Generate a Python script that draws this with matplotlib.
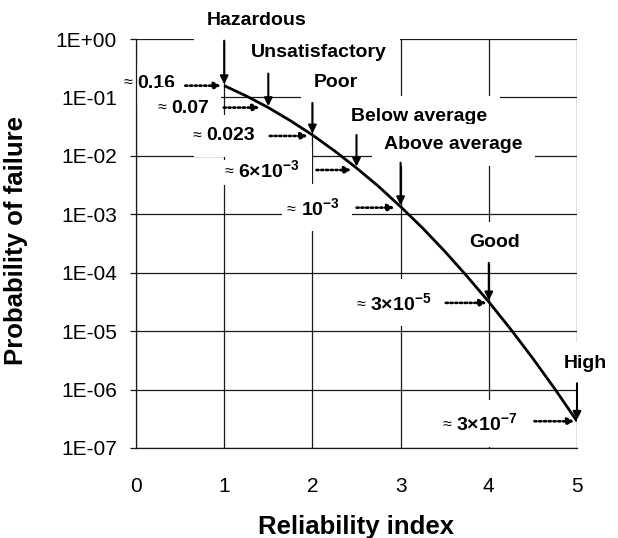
import numpy as np
import matplotlib
matplotlib.use('Agg')
import matplotlib.pyplot as plt
from matplotlib.ticker import NullLocator
from matplotlib.transforms import offset_copy

# ---- data ----
beta = [1.0, 1.25, 1.5, 1.75, 2.0, 2.25, 2.5, 2.75, 3.0, 3.25, 3.5, 3.75,
        4.0, 4.25, 4.5, 4.75, 5.0]
pf = [0.159, 0.106, 0.067, 0.040, 0.0228, 0.0122, 0.0062, 0.0030, 0.00135,
      5.8e-4, 2.33e-4, 8.8e-5, 3.17e-5, 1.07e-5, 3.4e-6, 1.02e-6, 2.87e-7]

xtick_vals = [0, 1, 2, 3, 4, 5]
ytick_vals = [1e0, 1e-1, 1e-2, 1e-3, 1e-4, 1e-5, 1e-6, 1e-7]
ytick_labels = ['1E+00', '1E-01', '1E-02', '1E-03', '1E-04', '1E-05',
                '1E-06', '1E-07']

categories = ['Hazardous', 'Unsatisfactory', 'Poor', 'Below average',
              'Above average', 'Good', 'High']
cat_beta = [1.0, 1.5, 2.0, 2.5, 3.0, 4.0, 5.0]
cat_pf = [0.159, 0.067, 0.0228, 0.0062, 0.00135, 3.17e-5, 2.87e-7]
pf_text = ['0.16', '0.07', '0.023',
           r'$\mathbf{6{\times}10^{-3}}$', r'$\mathbf{10^{-3}}$',
           r'$\mathbf{3{\times}10^{-5}}$', r'$\mathbf{3{\times}10^{-7}}$']

# ---- layout (pixel offsets relative to each marked point) ----
lab_dx = [32.5, 51, 23, 62.7, 53, 6, 8.5]
lab_dy = [65, 55, 52, 51, 62, 59, 58]
arr_len = [45, 34, 32, 33, 44, 39, 38]
num_dx = [-49, -59.5, -57.6, -57, -61, -57, -60]
num_dy = [2, -1, -1, -2, -1, -1, -2]
dot_start = [-39, -44.5, -42.6, -40, -44, -43, -42.5]
dot_end = [-3, -8.5, -4.6, -5, -6, -2, -2.5]
dot_dy = [0, 0, -1, -2, -1, -1, 0]

plt.rcParams['font.family'] = ['Liberation Sans', 'DejaVu Sans']
plt.rcParams['mathtext.fontset'] = 'custom'
plt.rcParams['mathtext.rm'] = 'Liberation Sans'
plt.rcParams['mathtext.bf'] = 'Liberation Sans:bold'
plt.rcParams['mathtext.it'] = 'Liberation Sans:italic'

fig = plt.figure(figsize=(6.18, 5.38), dpi=100)
fig.patch.set_facecolor('white')
ax = fig.add_axes([136 / 618, 1 - 448 / 538, 441 / 618, 409 / 538])
ax.set_yscale('log')
ax.set_xlim(0, 5)
ax.set_ylim(1e-7, 1)

ax.plot(beta, pf, color='black', lw=2.0, zorder=4, solid_capstyle='butt')

ax.set_yticks(ytick_vals)
ax.set_yticklabels(ytick_labels)
ax.yaxis.set_minor_locator(NullLocator())
ax.set_xticks(xtick_vals)
ax.set_xticklabels([str(v) for v in xtick_vals])
ax.tick_params(axis='y', length=4.3, width=0.9, pad=9.4, labelsize=15,
               direction='out', color='#1a1a1a')
ax.tick_params(axis='x', length=0, pad=21, labelsize=15)
ax.grid(True, color='#1a1a1a', lw=0.9)
ax.set_axisbelow(True)
for s in ['top', 'right']:
    ax.spines[s].set_visible(False)
for s in ['left', 'bottom']:
    ax.spines[s].set_zorder(6)
    ax.spines[s].set_linewidth(0.9)
    ax.spines[s].set_color('#1a1a1a')

ax.set_ylabel('Probability of failure', fontsize=18.5, fontweight='bold')
ax.yaxis.set_label_coords((28 - 136) / 441, 0.508)
ax.set_xlabel('Reliability index', fontsize=18.5, fontweight='bold')
ax.xaxis.set_label_coords(0.5, (448 - 527) / 409)
ax.xaxis.label.set_va('center')

box = dict(boxstyle='square,pad=0.65', fc='white', ec='none')
for i in range(len(categories)):
    b, p = cat_beta[i], cat_pf[i]
    # category label
    ax.annotate(categories[i], xy=(b, p), xytext=(lab_dx[i], lab_dy[i]),
                textcoords='offset pixels', ha='center', va='center',
                fontsize=14, fontweight='bold', bbox=box, zorder=3,
                annotation_clip=False)
    # solid down arrow
    ax.annotate('', xy=(b, p), xytext=(0, arr_len[i]),
                textcoords='offset pixels',
                arrowprops=dict(arrowstyle='-|>', color='black', lw=1.5,
                                mutation_scale=12, shrinkA=0, shrinkB=1),
                zorder=5, annotation_clip=False)
    # value label
    t = ax.annotate(pf_text[i], xy=(b, p), xytext=(num_dx[i], num_dy[i]),
                    textcoords='offset pixels', ha='right', va='center',
                    fontsize=14, fontweight='bold', bbox=box, zorder=3,
                    annotation_clip=False)
    yy = 0.5 if i < 3 else 0.38
    ax.annotate('\u2248', xy=(0, yy), xycoords=t, xytext=(-5, 0),
                textcoords='offset pixels', ha='right', va='center',
                fontsize=11.5,
                bbox=dict(boxstyle='square,pad=0.3', fc='white', ec='none'),
                zorder=3, annotation_clip=False)
    # dotted arrow
    tr = offset_copy(ax.transData, fig=fig, x=dot_end[i], y=dot_dy[i],
                     units='dots')
    ax.annotate('', xy=(b, p), xycoords=tr,
                xytext=(dot_start[i] - dot_end[i], 0),
                textcoords='offset pixels',
                arrowprops=dict(arrowstyle='-|>', color='black', lw=1.9,
                                linestyle=(0, (0.8, 1.0)), mutation_scale=10,
                                shrinkA=0, shrinkB=0),
                zorder=5, annotation_clip=False)

fig.savefig('out.png', dpi=100)
